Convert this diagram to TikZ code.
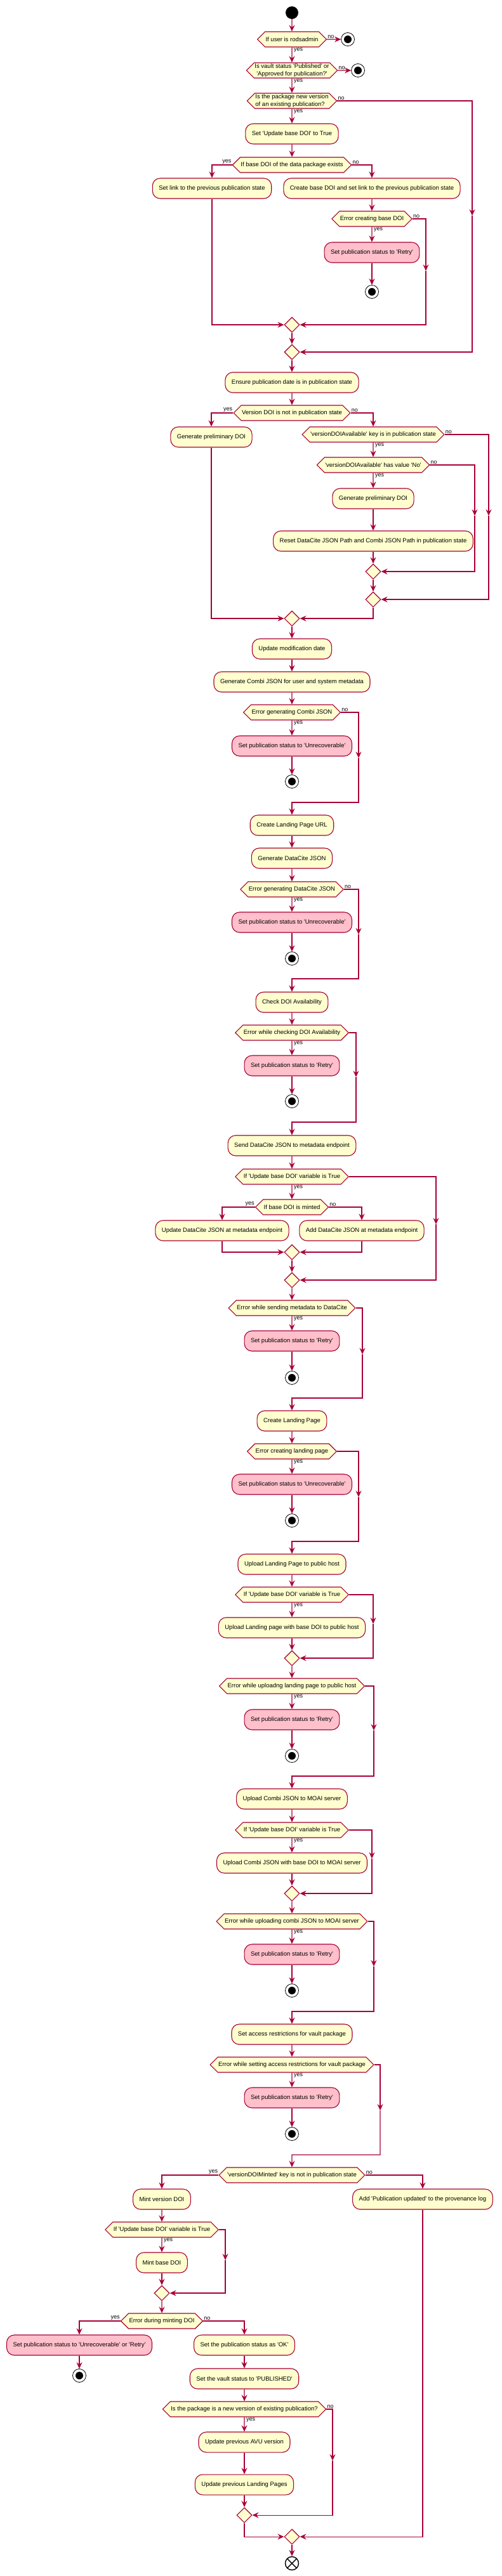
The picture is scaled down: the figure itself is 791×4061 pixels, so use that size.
\documentclass[tikz,border=0pt]{standalone}
\usepackage{fontspec}
\newfontfamily\umlfont{Liberation Sans}
\usetikzlibrary{arrows.meta,shapes.geometric,shapes.symbols}
\definecolor{umlred}{HTML}{A80036}
\definecolor{umlyellow}{HTML}{FEFECE}
\definecolor{umlpink}{HTML}{FFC0CB}

\begin{document}
\begin{tikzpicture}[x=1pt, y=-1pt, font=\umlfont\fontsize{9.5}{11.5}\selectfont,
    act/.style = {draw=umlred, fill=umlyellow, line width=1.1pt, rounded corners=12pt, minimum height=32pt, inner xsep=10pt},
    err/.style = {act, fill=umlpink},
    cond/.style = {draw=umlred, fill=umlyellow, line width=1.1pt, signal, signal to=west and east, minimum height=24pt, inner xsep=1pt, inner ysep=1pt},
    merge/.style = {draw=umlred, fill=umlyellow, line width=1.1pt, diamond, minimum size=24pt, inner sep=0pt},
    startdot/.style = {circle, fill=black, minimum size=20pt, inner sep=0pt},
    stopdot/.style = {circle, draw=black, fill=white, line width=0.8pt, minimum size=21pt, inner sep=0pt, path picture={\fill[black] (path picture bounding box.center) circle (6pt);}},
    enddot/.style = {circle, draw=black, fill=white, line width=1.4pt, minimum size=21pt, inner sep=0pt, path picture={\draw[black, line width=1.4pt] (path picture bounding box.south west) -- (path picture bounding box.north east) (path picture bounding box.north west) -- (path picture bounding box.south east);}},
    flow/.style = {draw=umlred, line width=1.1pt, -{Stealth[length=10pt, width=9pt, inset=3.5pt]}},
    lbl/.style = {font=\umlfont\fontsize{9}{10}\selectfont, inner sep=1pt}]
    \path[use as bounding box, fill=white] (0,0) rectangle (791,4061);

    \node[startdot] (start) at (460,20) {};
    \node[cond] (rods) [below of=start, node distance=42pt] {If user is rodsadmin};
    \node[stopdot] (stop1) [right of=rods, node distance=88pt] {};
    \node[cond, align=center] (vault) [below of=rods, node distance=49pt] {Is vault status 'Published' or\\'Approved for publication?'};
    \node[stopdot] (stop2) [right of=vault, node distance=104pt] {};
    \node[cond, align=left] (newver) [below of=vault, node distance=48pt] {Is the package new version\\of an existing publication?};
    \node[act] (setupd) [below of=newver, node distance=52pt] {Set 'Update base DOI' to True};
    \node[cond] (basedoi) [below of=setupd, node distance=49pt] {If base DOI of the data package exists};
    \node[act] (setlink) [below of=basedoi, node distance=37pt, xshift=-126pt] {Set link to the previous publication state};
    \node[act] (createbase) [below of=basedoi, node distance=37pt, xshift=126pt] {Create base DOI and set link to the previous publication state};
    \node[cond] (errbase) [below of=createbase, node distance=48pt] {Error creating base DOI};
    \node[err] (retry1) [below of=errbase, node distance=53pt] {Set publication status to 'Retry'};
    \node[stopdot] (stop3) [below of=retry1, node distance=62pt] {};
    \node[merge] (m1) [below of=basedoi, node distance=252pt] {};
    \node[merge] (m2) [below of=m1, node distance=43pt] {};
    \node[act] (ensure) [below of=m2, node distance=48pt] {Ensure publication date is in publication state};
    \node[cond] (verdoi) [below of=ensure, node distance=48pt] {Version DOI is not in publication state};
    \node[act] (prelim1) [below of=verdoi, node distance=38pt, xshift=-127pt] {Generate preliminary DOI};
    \node[cond] (keyin) [below of=verdoi, node distance=34pt, xshift=128pt] {'versionDOIAvailable' key is in publication state};
    \node[cond] (valno) [below of=keyin, node distance=48pt] {'versionDOIAvailable' has value 'No'};
    \node[act] (prelim2) [below of=valno, node distance=53pt] {Generate preliminary DOI};
    \node[act] (reset) [below of=prelim2, node distance=67pt] {Reset DataCite JSON Path and Combi JSON Path in publication state};
    \node[merge] (m3) [below of=reset, node distance=48pt] {};
    \node[merge] (m4) [below of=m3, node distance=44pt] {};
    \node[merge] (m5) [below of=verdoi, node distance=324pt] {};
    \node[act] (moddate) [below of=m5, node distance=48pt] {Update modification date};
    \node[act] (gencombi) [below of=moddate, node distance=52pt] {Generate Combi JSON for user and system metadata};
    \node[cond] (errcombi) [below of=gencombi, node distance=48pt] {Error generating Combi JSON};
    \node[err] (unrec1) [below of=errcombi, node distance=53pt] {Set publication status to 'Unrecoverable'};
    \node[stopdot] (stop4) [below of=unrec1, node distance=56pt] {};
    \node[act] (lpurl) [below of=stop4, node distance=69pt] {Create Landing Page URL};
    \node[act] (gendc) [below of=lpurl, node distance=52pt] {Generate DataCite JSON};
    \node[cond] (errdc) [below of=gendc, node distance=49pt] {Error generating DataCite JSON};
    \node[err] (unrec2) [below of=errdc, node distance=52pt] {Set publication status to 'Unrecoverable'};
    \node[stopdot] (stop5) [below of=unrec2, node distance=57pt] {};
    \node[act] (checkdoi) [below of=stop5, node distance=69pt] {Check DOI Availability};
    \node[cond] (errcheck) [below of=checkdoi, node distance=48pt] {Error while checking DOI Availability};
    \node[err] (retry2) [below of=errcheck, node distance=52pt] {Set publication status to 'Retry'};
    \node[stopdot] (stop6) [below of=retry2, node distance=56pt] {};
    \node[act] (senddc) [below of=stop6, node distance=70pt] {Send DataCite JSON to metadata endpoint};
    \node[cond] (upd1) [below of=senddc, node distance=49pt] {If 'Update base DOI' variable is True};
    \node[cond] (minted) [below of=upd1, node distance=48pt] {If base DOI is minted};
    \node[act] (updc) [below of=minted, node distance=37pt, xshift=-110pt] {Update DataCite JSON at metadata endpoint};
    \node[act] (adddc) [below of=minted, node distance=37pt, xshift=110pt] {Add DataCite JSON at metadata endpoint};
    \node[merge] (m6) [below of=minted, node distance=71pt] {};
    \node[merge] (m7) [below of=m6, node distance=44pt] {};
    \node[cond] (errsend) [below of=m7, node distance=44pt] {Error while sending metadata to DataCite};
    \node[err] (retry3) [below of=errsend, node distance=52pt] {Set publication status to 'Retry'};
    \node[stopdot] (stop7) [below of=retry3, node distance=58pt] {};
    \node[act] (createlp) [below of=stop7, node distance=68pt] {Create Landing Page};
    \node[cond] (errlp) [below of=createlp, node distance=48pt] {Error creating landing page};
    \node[err] (unrec3) [below of=errlp, node distance=52pt] {Set publication status to 'Unrecoverable'};
    \node[stopdot] (stop8) [below of=unrec3, node distance=57pt] {};
    \node[act] (uplp) [below of=stop8, node distance=69pt] {Upload Landing Page to public host};
    \node[cond] (upd2) [below of=uplp, node distance=48pt] {If 'Update base DOI' variable is True};
    \node[act] (uplpbase) [below of=upd2, node distance=52pt] {Upload Landing page with base DOI to public host};
    \node[merge] (m8) [below of=uplpbase, node distance=48pt] {};
    \node[cond] (erruplp) [below of=m8, node distance=44pt] {Error while uploadng landing page to public host};
    \node[err] (retry4) [below of=erruplp, node distance=53pt] {Set publication status to 'Retry'};
    \node[stopdot] (stop9) [below of=retry4, node distance=57pt] {};
    \node[act] (upcombi) [below of=stop9, node distance=68pt] {Upload Combi JSON to MOAI server};
    \node[cond] (upd3) [below of=upcombi, node distance=49pt] {If 'Update base DOI' variable is True};
    \node[act] (upcombibase) [below of=upd3, node distance=52pt] {Upload Combi JSON with base DOI to MOAI server};
    \node[merge] (m9) [below of=upcombibase, node distance=48pt] {};
    \node[cond] (errupcombi) [below of=m9, node distance=44pt] {Error while uploading combi JSON to MOAI server};
    \node[err] (retry5) [below of=errupcombi, node distance=52pt] {Set publication status to 'Retry'};
    \node[stopdot] (stop10) [below of=retry5, node distance=57pt] {};
    \node[act] (access) [below of=stop10, node distance=69pt] {Set access restrictions for vault package};
    \node[cond] (erraccess) [below of=access, node distance=48pt] {Error while setting access restrictions for vault package};
    \node[err] (retry6) [below of=erraccess, node distance=52pt] {Set publication status to 'Retry'};
    \node[stopdot] (stop11) [below of=retry6, node distance=57pt] {};
    \node[cond] (mintedkey) [below of=stop11, node distance=65pt] {'versionDOIMinted' key is not in publication state};
    \node[act] (mintver) [below of=mintedkey, node distance=38pt, xshift=-205pt] {Mint version DOI};
    \node[act] (provlog) [below of=mintedkey, node distance=38pt, xshift=206pt] {Add 'Publication updated' to the provenance log};
    \node[cond] (upd4) [below of=mintver, node distance=48pt] {If 'Update base DOI' variable is True};
    \node[act] (mintbase) [below of=upd4, node distance=52pt] {Mint base DOI};
    \node[merge] (m10) [below of=mintbase, node distance=48pt] {};
    \node[cond] (errmint) [below of=m10, node distance=44pt] {Error during minting DOI};
    \node[err] (unrec4) [below of=errmint, node distance=38pt, xshift=-130pt] {Set publication status to 'Unrecoverable' or 'Retry'};
    \node[act] (statok) [below of=errmint, node distance=38pt, xshift=130pt] {Set the publication status as 'OK'};
    \node[stopdot] (stop12) [below of=unrec4, node distance=48pt] {};
    \node[act] (published) [below of=statok, node distance=53pt] {Set the vault status to 'PUBLISHED'};
    \node[cond] (newver2) [below of=published, node distance=48pt] {Is the package is a new version of existing publication?};
    \node[act] (avu) [below of=newver2, node distance=52pt] {Update previous AVU version};
    \node[act] (prevlp) [below of=avu, node distance=67pt] {Update previous Landing Pages};
    \node[merge] (m11) [below of=prevlp, node distance=48pt] {};
    \node[merge] (m12) [below of=mintedkey, node distance=570pt] {};
    \node[enddot] (final) [below of=m12, node distance=42pt] {};

    \coordinate (nvmid) at (744,340);
    \coordinate (ebmid) at (671,427);
    \coordinate (kimid) at (770,813);
    \coordinate (vnmid) at (748,813);
    \coordinate (ecmid) at (565,1195);
    \coordinate (ecjoin) at (460,1265);
    \coordinate (edmid) at (565,1473);
    \coordinate (edjoin) at (460,1543);
    \coordinate (ekmid) at (561,1698);
    \coordinate (ekjoin) at (460,1769);
    \coordinate (u1mid) at (687,1930);
    \coordinate (esmid) at (571,2135);
    \coordinate (esjoin) at (460,2204);
    \coordinate (elmid) at (565,2360);
    \coordinate (eljoin) at (460,2430);
    \coordinate (u2mid) at (588,2560);
    \coordinate (eumid) at (589,2728);
    \coordinate (eujoin) at (460,2800);
    \coordinate (u3mid) at (586,2930);
    \coordinate (ecbmid) at (589,3100);
    \coordinate (ecbjoin) at (460,3171);
    \coordinate (eamid) at (599,3327);
    \coordinate (eajoin) at (460,3397);
    \coordinate (u4mid) at (355,3563);
    \coordinate (nv2mid) at (524,3879);

    \draw[flow] (start) -- (rods);
    \draw[flow] (rods) -- (stop1);
    \draw[flow] (rods) -- (vault);
    \draw[flow] (vault) -- (stop2);
    \draw[flow] (vault) -- (newver);
    \draw[flow] (newver) -- (setupd);
    \draw[flow] (newver.east) -| (nvmid);
    \draw[flow] (nvmid) |- (m2);
    \draw[flow] (setupd) -- (basedoi);
    \draw[flow] (basedoi.west) -| (setlink);
    \draw[flow] (basedoi.east) -| (createbase);
    \draw[flow] (createbase) -- (errbase);
    \draw[flow] (errbase) -- (retry1);
    \draw[flow] (retry1) -- (stop3);
    \draw[flow] (errbase.east) -| (ebmid);
    \draw[flow] (ebmid) |- (m1);
    \draw[flow] (setlink) |- (m1);
    \draw[flow] (m1) -- (m2);
    \draw[flow] (m2) -- (ensure);
    \draw[flow] (ensure) -- (verdoi);
    \draw[flow] (verdoi.west) -| (prelim1);
    \draw[flow] (verdoi.east) -| (keyin);
    \draw[flow] (keyin) -- (valno);
    \draw[flow] (keyin.east) -| (kimid);
    \draw[flow] (kimid) |- (m4);
    \draw[flow] (valno) -- (prelim2);
    \draw[flow] (valno.east) -| (vnmid);
    \draw[flow] (vnmid) |- (m3);
    \draw[flow] (prelim2) -- (reset);
    \draw[flow] (reset) -- (m3);
    \draw[flow] (m3) -- (m4);
    \draw[flow] (m4) |- (m5);
    \draw[flow] (prelim1) |- (m5);
    \draw[flow] (m5) -- (moddate);
    \draw[flow] (moddate) -- (gencombi);
    \draw[flow] (gencombi) -- (errcombi);
    \draw[flow] (errcombi) -- (unrec1);
    \draw[flow] (unrec1) -- (stop4);
    \draw[flow] (errcombi.east) -| (ecmid);
    \draw[flow] (ecmid) |- (ecjoin) -- (lpurl);
    \draw[flow] (lpurl) -- (gendc);
    \draw[flow] (gendc) -- (errdc);
    \draw[flow] (errdc) -- (unrec2);
    \draw[flow] (unrec2) -- (stop5);
    \draw[flow] (errdc.east) -| (edmid);
    \draw[flow] (edmid) |- (edjoin) -- (checkdoi);
    \draw[flow] (checkdoi) -- (errcheck);
    \draw[flow] (errcheck) -- (retry2);
    \draw[flow] (retry2) -- (stop6);
    \draw[flow] (errcheck.east) -| (ekmid);
    \draw[flow] (ekmid) |- (ekjoin) -- (senddc);
    \draw[flow] (senddc) -- (upd1);
    \draw[flow] (upd1) -- (minted);
    \draw[flow] (upd1.east) -| (u1mid);
    \draw[flow] (u1mid) |- (m7);
    \draw[flow] (minted.west) -| (updc);
    \draw[flow] (minted.east) -| (adddc);
    \draw[flow] (updc) |- (m6);
    \draw[flow] (adddc) |- (m6);
    \draw[flow] (m6) -- (m7);
    \draw[flow] (m7) -- (errsend);
    \draw[flow] (errsend) -- (retry3);
    \draw[flow] (retry3) -- (stop7);
    \draw[flow] (errsend.east) -| (esmid);
    \draw[flow] (esmid) |- (esjoin) -- (createlp);
    \draw[flow] (createlp) -- (errlp);
    \draw[flow] (errlp) -- (unrec3);
    \draw[flow] (unrec3) -- (stop8);
    \draw[flow] (errlp.east) -| (elmid);
    \draw[flow] (elmid) |- (eljoin) -- (uplp);
    \draw[flow] (uplp) -- (upd2);
    \draw[flow] (upd2) -- (uplpbase);
    \draw[flow] (uplpbase) -- (m8);
    \draw[flow] (upd2.east) -| (u2mid);
    \draw[flow] (u2mid) |- (m8);
    \draw[flow] (m8) -- (erruplp);
    \draw[flow] (erruplp) -- (retry4);
    \draw[flow] (retry4) -- (stop9);
    \draw[flow] (erruplp.east) -| (eumid);
    \draw[flow] (eumid) |- (eujoin) -- (upcombi);
    \draw[flow] (upcombi) -- (upd3);
    \draw[flow] (upd3) -- (upcombibase);
    \draw[flow] (upcombibase) -- (m9);
    \draw[flow] (upd3.east) -| (u3mid);
    \draw[flow] (u3mid) |- (m9);
    \draw[flow] (m9) -- (errupcombi);
    \draw[flow] (errupcombi) -- (retry5);
    \draw[flow] (retry5) -- (stop10);
    \draw[flow] (errupcombi.east) -| (ecbmid);
    \draw[flow] (ecbmid) |- (ecbjoin) -- (access);
    \draw[flow] (access) -- (erraccess);
    \draw[flow] (erraccess) -- (retry6);
    \draw[flow] (retry6) -- (stop11);
    \draw[flow] (erraccess.east) -| (eamid);
    \draw[flow] (eamid) |- (eajoin) -- (mintedkey);
    \draw[flow] (mintedkey.west) -| (mintver);
    \draw[flow] (mintedkey.east) -| (provlog);
    \draw[flow] (mintver) -- (upd4);
    \draw[flow] (upd4) -- (mintbase);
    \draw[flow] (mintbase) -- (m10);
    \draw[flow] (upd4.east) -| (u4mid);
    \draw[flow] (u4mid) |- (m10);
    \draw[flow] (m10) -- (errmint);
    \draw[flow] (errmint.west) -| (unrec4);
    \draw[flow] (errmint.east) -| (statok);
    \draw[flow] (unrec4) -- (stop12);
    \draw[flow] (statok) -- (published);
    \draw[flow] (published) -- (newver2);
    \draw[flow] (newver2) -- (avu);
    \draw[flow] (avu) -- (prevlp);
    \draw[flow] (prevlp) -- (m11);
    \draw[flow] (newver2.east) -| (nv2mid);
    \draw[flow] (nv2mid) |- (m11);
    \draw[flow] (m11) |- (m12);
    \draw[flow] (provlog) |- (m12);
    \draw[flow] (m12) -- (final);

    \node[lbl, anchor=south west] at (rods.east) {no};
    \node[lbl, anchor=north west] at ([xshift=2pt]rods.south) {yes};
    \node[lbl, anchor=south west] at (vault.east) {no};
    \node[lbl, anchor=north west] at ([xshift=2pt]vault.south) {yes};
    \node[lbl, anchor=south west] at (newver.east) {no};
    \node[lbl, anchor=north west] at ([xshift=2pt]newver.south) {yes};
    \node[lbl, anchor=south east] at (basedoi.west) {yes};
    \node[lbl, anchor=south west] at (basedoi.east) {no};
    \node[lbl, anchor=south west] at (errbase.east) {no};
    \node[lbl, anchor=north west] at ([xshift=2pt]errbase.south) {yes};
    \node[lbl, anchor=south east] at (verdoi.west) {yes};
    \node[lbl, anchor=south west] at (verdoi.east) {no};
    \node[lbl, anchor=south west] at (keyin.east) {no};
    \node[lbl, anchor=north west] at ([xshift=2pt]keyin.south) {yes};
    \node[lbl, anchor=south west] at (valno.east) {no};
    \node[lbl, anchor=north west] at ([xshift=2pt]valno.south) {yes};
    \node[lbl, anchor=south west] at (errcombi.east) {no};
    \node[lbl, anchor=north west] at ([xshift=2pt]errcombi.south) {yes};
    \node[lbl, anchor=south west] at (errdc.east) {no};
    \node[lbl, anchor=north west] at ([xshift=2pt]errdc.south) {yes};
    \node[lbl, anchor=north west] at ([xshift=2pt]errcheck.south) {yes};
    \node[lbl, anchor=north west] at ([xshift=2pt]upd1.south) {yes};
    \node[lbl, anchor=south east] at (minted.west) {yes};
    \node[lbl, anchor=south west] at (minted.east) {no};
    \node[lbl, anchor=north west] at ([xshift=2pt]errsend.south) {yes};
    \node[lbl, anchor=north west] at ([xshift=2pt]errlp.south) {yes};
    \node[lbl, anchor=north west] at ([xshift=2pt]upd2.south) {yes};
    \node[lbl, anchor=north west] at ([xshift=2pt]erruplp.south) {yes};
    \node[lbl, anchor=north west] at ([xshift=2pt]upd3.south) {yes};
    \node[lbl, anchor=north west] at ([xshift=2pt]errupcombi.south) {yes};
    \node[lbl, anchor=north west] at ([xshift=2pt]erraccess.south) {yes};
    \node[lbl, anchor=south east] at (mintedkey.west) {yes};
    \node[lbl, anchor=south west] at (mintedkey.east) {no};
    \node[lbl, anchor=north west] at ([xshift=2pt]upd4.south) {yes};
    \node[lbl, anchor=south east] at (errmint.west) {yes};
    \node[lbl, anchor=south west] at (errmint.east) {no};
    \node[lbl, anchor=south west] at (newver2.east) {no};
    \node[lbl, anchor=north west] at ([xshift=2pt]newver2.south) {yes};
\end{tikzpicture}
\end{document}
